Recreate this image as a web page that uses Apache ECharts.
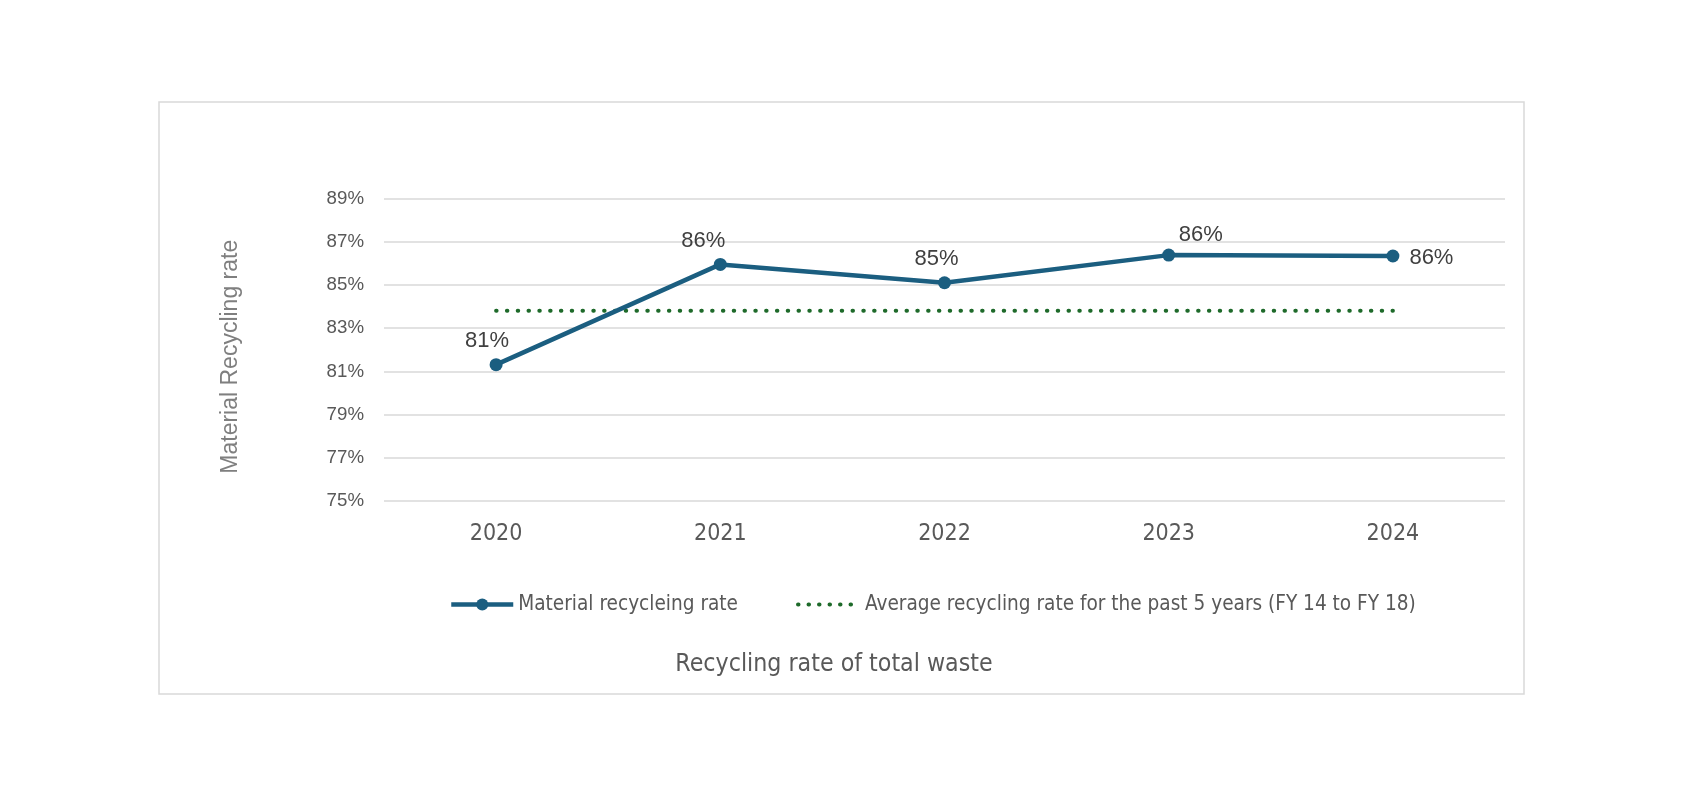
<!DOCTYPE html>
<html>
<head>
<meta charset="utf-8">
<script src="https://cdn.jsdelivr.net/npm/echarts@6/dist/echarts.min.js"></script>
<style>
html,body{margin:0;padding:0;background:#fff;}
#chart{width:1682px;height:786px;}
</style>
</head>
<body>
<div id="chart"></div>
<script>
var years = ['2020', '2021', '2022', '2023', '2024'];
var recyclingRate = [81.31, 85.95, 85.10, 86.38, 86.34];
var averageRate = [83.81, 83.81, 83.81, 83.81, 83.81];
var seriesNames = ['Material recycleing rate', 'Average recycling rate for the past 5 years (FY 14 to FY 18)'];
var chartTitle = 'Recycling rate of total waste';
var yAxisName = 'Material Recycling rate';

var narrow = '"Liberation Sans Narrow", "DejaVu Sans Condensed", "Liberation Sans", sans-serif';
var arial = '"Liberation Sans", Arial, sans-serif';
var labelLayout = [
  {position: 'top', offset: [-9, 0]},
  {position: 'top', offset: [-17, 0]},
  {position: 'top', offset: [-8, 0]},
  {position: 'top', offset: [32, 3]},
  {position: 'right', offset: [4, 2]}
];

var chart = echarts.init(document.getElementById('chart'));
chart.setOption({
  animation: false,
  backgroundColor: '#ffffff',
  graphic: [{
    type: 'rect',
    shape: {x: 159, y: 102, width: 1365, height: 592},
    style: {fill: 'none', stroke: '#d9d9d9', lineWidth: 1.5},
    silent: true
  }],
  title: {
    text: chartTitle,
    left: 829,
    top: 647,
    textAlign: 'center',
    textStyle: {fontFamily: narrow, fontSize: 24.7, fontWeight: 'normal', color: '#595959'}
  },
  legend: {
    left: 444,
    top: 589,
    itemWidth: 62,
    itemHeight: 15,
    itemGap: 58,
    textStyle: {fontFamily: narrow, fontSize: 20.6, color: '#595959'},
    data: [
      {name: seriesNames[0], lineStyle: {width: 4.5}},
      {name: seriesNames[1], itemStyle: {opacity: 0}, lineStyle: {width: 4, type: [0.5, 10], cap: 'round'}}
    ]
  },
  grid: {left: 384, right: 177, top: 198.5, bottom: 285},
  xAxis: {
    type: 'category',
    data: years,
    boundaryGap: true,
    axisLine: {show: false},
    axisTick: {show: false},
    axisLabel: {fontFamily: narrow, fontSize: 23, color: '#595959', margin: 22}
  },
  yAxis: {
    type: 'value',
    min: 75,
    max: 89,
    interval: 2,
    name: yAxisName,
    nameLocation: 'middle',
    nameGap: 142,
    nameTextStyle: {fontFamily: arial, fontSize: 23, color: '#7f7f7f', padding: [0, 14, 0, 0]},
    axisLine: {show: false},
    axisTick: {show: false},
    splitLine: {lineStyle: {color: '#d9d9d9', width: 1.5}},
    axisLabel: {
      formatter: '{value}%',
      fontFamily: arial,
      fontSize: 18.7,
      color: '#595959',
      margin: 20
    }
  },
  series: [
    {
      name: seriesNames[0],
      type: 'line',
      data: recyclingRate.map(function (v, i) {
        return {value: v, label: labelLayout[i]};
      }),
      symbol: 'circle',
      symbolSize: 13,
      z: 3,
      lineStyle: {color: '#1b5e80', width: 4.5},
      itemStyle: {color: '#1b5e80'},
      label: {
        show: true,
        distance: 6,
        fontFamily: arial,
        fontSize: 22,
        color: '#404040',
        formatter: function (p) { return Math.round(p.value) + '%'; }
      }
    },
    {
      name: seriesNames[1],
      type: 'line',
      data: averageRate,
      showSymbol: false,
      symbol: 'none',
      z: 2,
      lineStyle: {color: '#1e6a2a', width: 4, type: [0.5, 10.3], cap: 'round'},
      itemStyle: {color: '#1e6a2a'}
    }
  ]
});
</script>
</body>
</html>
